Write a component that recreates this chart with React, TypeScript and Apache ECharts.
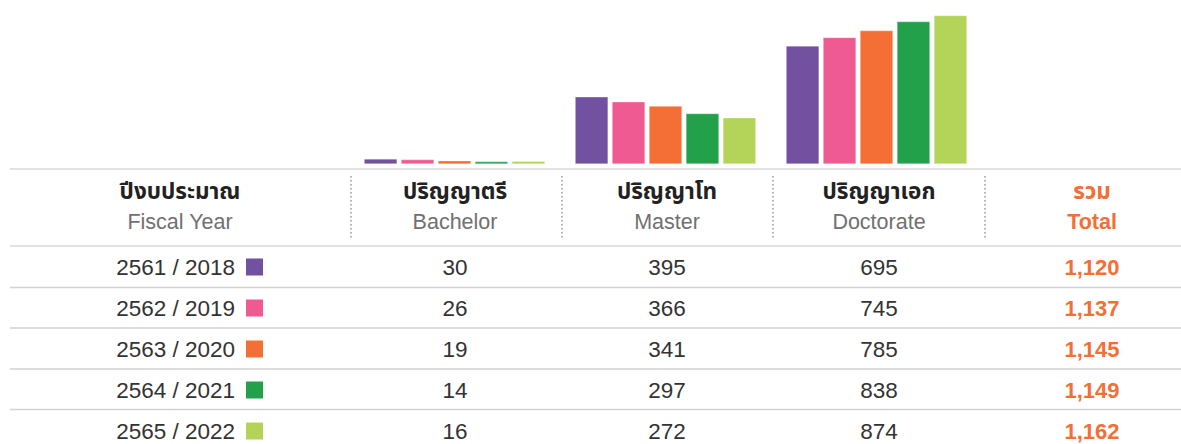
import React, { useEffect, useRef } from "react";
import * as echarts from "echarts";

const degreeThai = ["ปริญญาตรี", "ปริญญาโท", "ปริญญาเอก"];
const degreeEng = ["Bachelor", "Master", "Doctorate"];
const years = ["2561 / 2018", "2562 / 2019", "2563 / 2020", "2564 / 2021", "2565 / 2022"];
const yearColors = ["#7251a0", "#ee5a91", "#f36f35", "#22a04a", "#b3d459"];
const bachelor = [30, 26, 19, 14, 16];
const master = [395, 366, 341, 297, 272];
const doctorate = [695, 745, 785, 838, 874];
const totals = [1120, 1137, 1145, 1149, 1162];
const headThai0 = "ปีงบประมาณ";
const headEng0 = "Fiscal Year";
const totalThai = "รวม";
const totalEng = "Total";

const FONT = "'Liberation Sans', 'Noto Sans Thai', 'Noto Sans', Arial, sans-serif";
const THAI_FONT = "'Noto Sans Thai', 'Noto Sans Thai Looped', 'Noto Sans', 'Liberation Sans', sans-serif";

export default function App() {
  const ref = useRef<HTMLDivElement>(null);
  useEffect(() => {
    if (!ref.current) return;
    const chart = echarts.init(ref.current, null, { renderer: "svg" });
    const W = 1181;
    const colX = [180, 455, 667, 879, 1092];
    const sepX = [351, 562, 773, 985];
    const rowY = [267, 308, 349, 390, 431];
    const rowLines = [287.5, 328, 369, 409.5];
    const graphic: any[] = [];
    graphic.push({ type: "line", shape: { x1: 10, y1: 169, x2: W, y2: 169 }, style: { stroke: "#e2e2e2", lineWidth: 2 } });
    graphic.push({ type: "line", shape: { x1: 10, y1: 246, x2: W, y2: 246 }, style: { stroke: "#e2e2e2", lineWidth: 2 } });
    rowLines.forEach((y) =>
      graphic.push({ type: "line", shape: { x1: 10, y1: y, x2: W, y2: y }, style: { stroke: "#d2d2d2", lineWidth: 1.5 } })
    );
    sepX.forEach((x) =>
      graphic.push({
        type: "line",
        shape: { x1: x, y1: 176, x2: x, y2: 239 },
        style: { stroke: "#9a9a9a", lineWidth: 1.5, lineDash: [1.5, 2.5] },
      })
    );
    const thaiHeads = [headThai0, ...degreeThai, totalThai];
    const engHeads = [headEng0, ...degreeEng, totalEng];
    thaiHeads.forEach((t, i) => {
      const isTotal = i === 4;
      graphic.push({
        type: "text",
        x: colX[i],
        y: 192,
        style: {
          text: t,
          fill: isTotal ? "#f36f35" : "#222",
          font: `bold 22.5px ${THAI_FONT}`,
          align: "center",
          verticalAlign: "middle",
        },
      });
      graphic.push({
        type: "text",
        x: colX[i],
        y: 222,
        style: {
          text: engHeads[i],
          fill: isTotal ? "#f36f35" : "#707070",
          font: `${isTotal ? "bold " : ""}21.5px ${FONT}`,
          align: "center",
          verticalAlign: "middle",
        },
      });
    });
    years.forEach((yr, r) => {
      const y = rowY[r];
      graphic.push({
        type: "text",
        x: 235,
        y,
        style: { text: yr, fill: "#333", font: `22.5px ${FONT}`, align: "right", verticalAlign: "middle" },
      });
      graphic.push({
        type: "rect",
        shape: { x: 246, y: y - 8.5, width: 17, height: 17 },
        style: { fill: yearColors[r] },
      });
      [bachelor[r], master[r], doctorate[r]].forEach((v, c) => {
        graphic.push({
          type: "text",
          x: colX[c + 1],
          y,
          style: { text: String(v), fill: "#333", font: `22.5px ${FONT}`, align: "center", verticalAlign: "middle" },
        });
      });
      graphic.push({
        type: "text",
        x: colX[4],
        y,
        style: {
          text: totals[r].toLocaleString("en-US"),
          fill: "#f36f35",
          font: `bold 22px ${FONT}`,
          align: "center",
          verticalAlign: "middle",
        },
      });
    });

    const seriesData = years.map((_, r) => [bachelor[r], master[r], doctorate[r]]);
    chart.setOption({
      animation: false,
      grid: { left: 349, width: 633, top: 0, height: 164 },
      xAxis: {
        type: "category",
        data: degreeEng,
        axisLine: { show: false },
        axisTick: { show: false },
        axisLabel: { show: false },
      },
      yAxis: {
        type: "value",
        min: 0,
        max: 965,
        show: false,
        splitLine: { show: false },
      },
      series: years.map((yr, r) => ({
        name: yr,
        type: "bar",
        data: seriesData[r],
        barWidth: 33,
        barGap: "12%",
        itemStyle: { color: yearColors[r], borderColor: "rgba(255,255,255,0.6)", borderWidth: 0.5 },
      })),
      graphic,
    });
    return () => chart.dispose();
  }, []);
  return <div ref={ref} style={{ position: "fixed", left: 0, top: 0, width: 1181, height: 444, background: "#fff" }} />;
}
